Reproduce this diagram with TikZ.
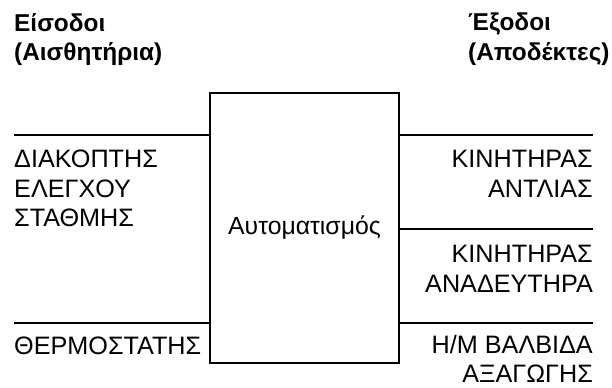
\documentclass[tikz,border=0pt]{standalone}
\usepackage{fontspec}
\setmainfont{Liberation Sans}
\begin{document}
\begin{tikzpicture}[x=1bp, y=-1bp,
    wire/.style={line width=2.6bp},
    lbl/.style={inner sep=0pt, font=\fontsize{25.2bp}{29.5bp}\selectfont},
    head/.style={inner sep=0pt, font=\fontsize{24.4bp}{29.5bp}\selectfont\bfseries}]
  \useasboundingbox (0,0) rectangle (612,387);

  % Controller
  \node[draw, wire, inner sep=0pt, font=\fontsize{24.8bp}{29.5bp}\selectfont,
        minimum width=189bp, minimum height=270bp] (auto) at (304.5,228) {Αυτοματισμός};

  % Headers
  \node[head, anchor=north west, align=left] (inhead) at (14,13) {Είσοδοι\\(Αισθητήρια)};
  \node[head, anchor=north west, align=left] (outhead) at (468,13) {Έξοδοι\\(Αποδέκτες)};

  % Inputs
  \coordinate (in1) at (14,135);
  \coordinate (in2) at (14,323);
  \draw[wire] (in1) -- (in1 -| auto.west);
  \draw[wire] (in2) -- (in2 -| auto.west);
  \node[lbl, anchor=north west, align=left] (level) at (14,150) {ΔΙΑΚΟΠΤΗΣ\\ΕΛΕΓΧΟΥ\\ΣΤΑΘΜΗΣ};
  \node[lbl, anchor=north west, align=left] (thermo) at (14,337) {ΘΕΡΜΟΣΤΑΤΗΣ};

  % Outputs
  \coordinate (out1) at (593,135);
  \coordinate (out2) at (593,229);
  \coordinate (out3) at (593,323);
  \draw[wire] (out1 -| auto.east) -- (out1);
  \draw[wire] (out2 -| auto.east) -- (out2);
  \draw[wire] (out3 -| auto.east) -- (out3);
  \node[lbl, anchor=north east, align=right] (pump) at (593,150) {ΚΙΝΗΤΗΡΑΣ\\ΑΝΤΛΙΑΣ};
  \node[lbl, anchor=north east, align=right] (mixer) at (593,245) {ΚΙΝΗΤΗΡΑΣ\\ΑΝΑΔΕΥΤΗΡΑ};
  \node[lbl, anchor=north east, align=right] (valve) at (593,335) {Η/Μ ΒΑΛΒΙΔΑ\\ΑΞΑΓΩΓΗΣ};

\end{tikzpicture}
\end{document}
